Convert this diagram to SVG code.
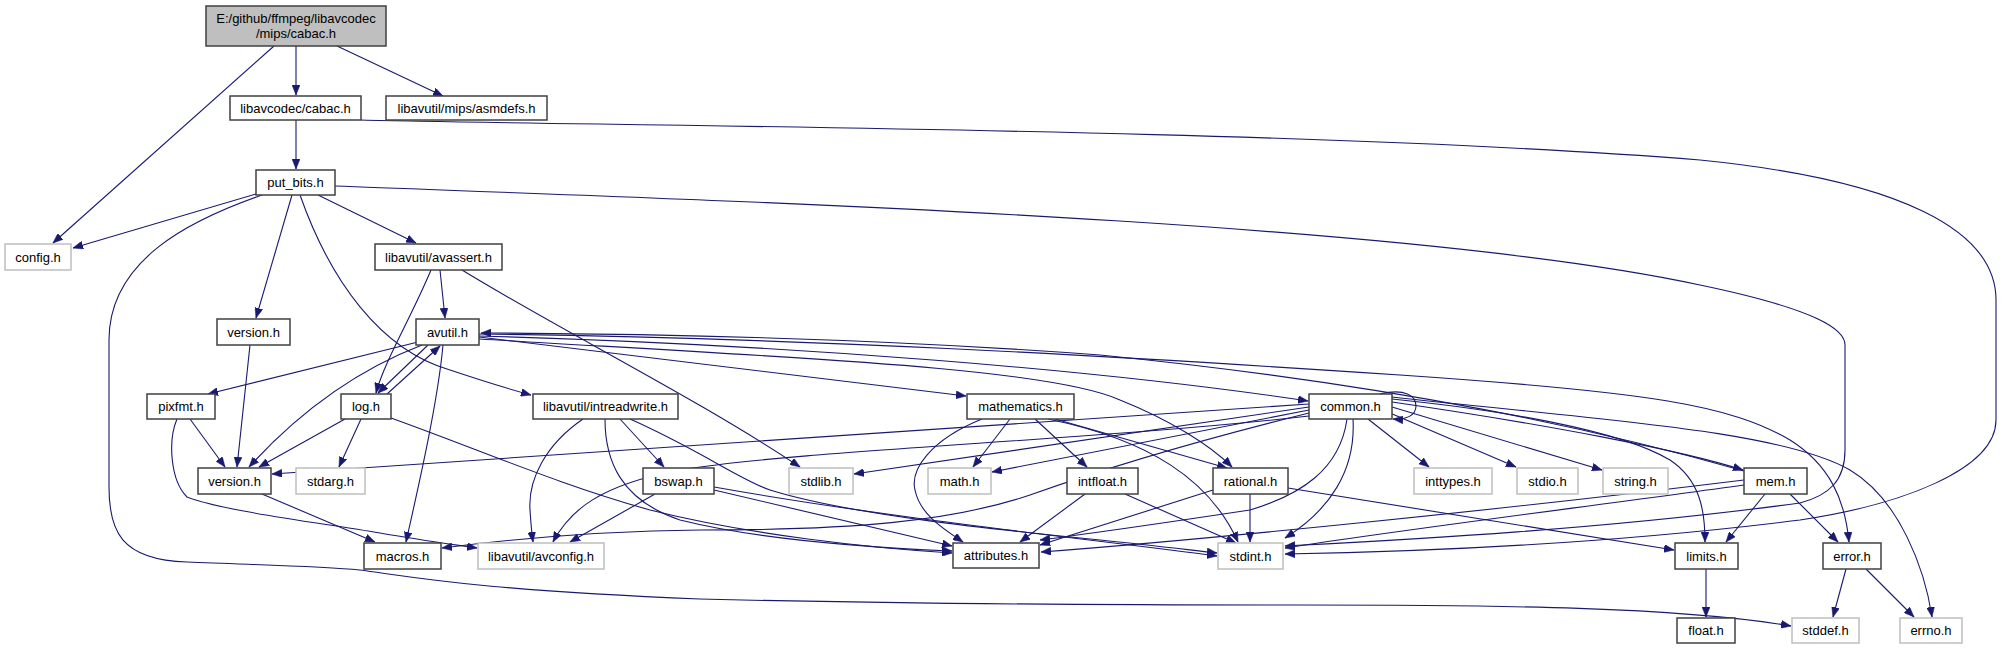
<svg xmlns="http://www.w3.org/2000/svg" width="2003" height="649" viewBox="0 0 2003 649">
<style>
.n{fill:#fff;stroke:#404040;stroke-width:1.5}
.g{fill:#fff;stroke:#bfbfbf;stroke-width:1.5}
.r{fill:#bfbfbf;stroke:#404040;stroke-width:1.5}
text{font-family:"Liberation Sans",Arial,sans-serif;font-size:13px;text-anchor:middle;fill:#000}
.e path{fill:none;stroke:#191970;stroke-width:1.1;marker-end:url(#a)}
</style>
<defs>
<marker id="a" markerUnits="userSpaceOnUse" markerWidth="11" markerHeight="8" refX="10" refY="4" orient="auto">
<path d="M0,0 L10,4 L0,8 z" fill="#191970" stroke="#191970" stroke-width="0.5"/>
</marker>
</defs>
<rect x="0" y="0" width="2003" height="649" fill="#fff"/>
<g class="e" id="edges">
<path d="M274,46 L53,243"/>
<path d="M296,46 L296,95"/>
<path d="M337,46 L443,96"/>
<path d="M296,120 L296,169"/>
<path d="M361,120 C600,126 1300,128 1700,160 C1900,180 1996,230 1996,300 L1996,420 C1996,470 1900,505 1800,520 C1600,545 1400,552 1285,554"/>
<path d="M256,194 L73,248"/>
<path d="M262,195 C190,220 109,260 109,340 L109,487 C109,530 120,560 187,562 C260,565 320,566 360,570 C420,578 480,590 700,599 C900,604 1100,605 1300,605 C1500,605 1680,607 1791,626"/>
<path d="M292,195 L256,318"/>
<path d="M300,195 C330,280 380,350 450,370 C480,380 505,388 531,395"/>
<path d="M318,195 L416,243"/>
<path d="M335,186 C700,200 1400,220 1700,285 C1820,310 1845,330 1845,345 L1845,450 C1845,480 1830,495 1800,503 C1600,530 1400,540 1285,546"/>
<path d="M440,270 L445,318"/>
<path d="M431,270 C410,320 385,360 376,393"/>
<path d="M462,270 C560,330 700,400 800,467"/>
<path d="M250,345 L237,467"/>
<path d="M418,342 L208,394"/>
<path d="M422,345 C370,365 310,400 249,467"/>
<path d="M428,345 L378,393"/>
<path d="M387,394 L440,346"/>
<path d="M443,345 C438,400 420,480 406,542"/>
<path d="M479,337 L966,396"/>
<path d="M479,336 C800,345 1100,370 1308,401"/>
<path d="M479,339 C800,358 1050,368 1120,400 C1170,420 1210,445 1232,467"/>
<path d="M479,334 C800,338 1100,355 1400,375 C1650,392 1730,405 1790,440 C1830,465 1845,500 1849,542"/>
<path d="M1744,471 C1600,430 1400,385 1100,355 C900,340 700,334 481,333"/>
<path d="M345,419 L259,467"/>
<path d="M361,419 L339,467"/>
<path d="M391,418 C480,450 560,485 650,510 C750,535 870,548 952,553"/>
<path d="M190,419 L225,467"/>
<path d="M177,419 C168,440 170,480 187,497 C220,510 300,520 380,533 C420,540 450,544 477,548"/>
<path d="M583,419 C545,445 528,480 530,510 C531,525 532,535 533,542"/>
<path d="M605,419 C605,460 620,500 680,520 C760,540 880,548 952,551"/>
<path d="M620,419 L664,467"/>
<path d="M630,419 C700,450 740,480 770,490 C850,515 1000,530 1100,540 C1150,545 1190,550 1217,553"/>
<path d="M655,494 L570,542"/>
<path d="M714,490 L952,546"/>
<path d="M714,487 C900,520 1100,540 1217,556"/>
<path d="M262,494 L375,542"/>
<path d="M982,419 C930,440 910,470 915,490 C920,515 945,530 963,542"/>
<path d="M1010,419 L973,467"/>
<path d="M1035,419 L1087,467"/>
<path d="M1055,419 L1227,468"/>
<path d="M1048,419 C1150,440 1210,480 1238,542"/>
<path d="M1085,494 L1020,542"/>
<path d="M1125,494 L1236,543"/>
<path d="M1250,494 L1250,542"/>
<path d="M1213,490 L1040,545"/>
<path d="M1288,488 L1674,550"/>
<path d="M1380,394 C1405,388 1416,396 1416,406 C1416,416 1405,420 1393,419"/>
<path d="M1309,404 L272,474"/>
<path d="M1309,407 L854,474"/>
<path d="M1309,410 L992,472"/>
<path d="M1309,413 C1200,440 1100,470 1030,495 C950,522 850,530 700,530 C600,531 520,538 442,548"/>
<path d="M1309,416 C1100,440 800,450 680,470 C600,485 570,510 553,542"/>
<path d="M1347,419 C1340,470 1300,495 1250,510 C1150,525 1080,535 1040,540"/>
<path d="M1353,419 C1356,470 1330,510 1285,538"/>
<path d="M1368,419 L1429,467"/>
<path d="M1390,413 L1516,467"/>
<path d="M1392,407 L1602,470"/>
<path d="M1392,402 C1550,425 1680,450 1743,470"/>
<path d="M1392,399 C1500,410 1620,430 1670,460 C1700,480 1705,510 1705,542"/>
<path d="M1392,397 C1600,420 1780,430 1850,470 C1900,500 1925,570 1932,617"/>
<path d="M1744,485 C1600,505 1400,530 1285,548"/>
<path d="M1744,480 C1500,510 1200,540 1041,552"/>
<path d="M1765,494 L1726,542"/>
<path d="M1790,494 L1838,542"/>
<path d="M1846,569 L1833,617"/>
<path d="M1866,569 L1914,617"/>
<path d="M1706,569 L1706,617"/>
</g>
<g id="root"><rect class="r" x="206" y="6" width="180" height="40"/><text x="296" y="23">E:/github/ffmpeg/libavcodec</text><text x="296" y="38">/mips/cabac.h</text></g>
<g id="cabac"><rect class="n" x="230" y="96" width="131" height="24"/><text x="295.5" y="112.5">libavcodec/cabac.h</text></g>
<g id="asmdefs"><rect class="n" x="386" y="96" width="161" height="24"/><text x="466.5" y="112.5">libavutil/mips/asmdefs.h</text></g>
<g id="put_bits"><rect class="n" x="256" y="170" width="79" height="25"/><text x="295.5" y="187">put_bits.h</text></g>
<g id="config"><rect class="g" x="5" y="244" width="66" height="26"/><text x="38" y="261.5">config.h</text></g>
<g id="avassert"><rect class="n" x="375" y="244" width="127" height="26"/><text x="438.5" y="261.5">libavutil/avassert.h</text></g>
<g id="versionA"><rect class="n" x="217" y="319" width="73" height="26"/><text x="253.5" y="336.5">version.h</text></g>
<g id="avutil"><rect class="n" x="416" y="319" width="63" height="26"/><text x="447.5" y="336.5">avutil.h</text></g>
<g id="pixfmt"><rect class="n" x="147" y="394" width="68" height="25"/><text x="181" y="411">pixfmt.h</text></g>
<g id="log"><rect class="n" x="341" y="394" width="50" height="25"/><text x="366" y="411">log.h</text></g>
<g id="intreadwrite"><rect class="n" x="533" y="394" width="145" height="25"/><text x="605.5" y="411">libavutil/intreadwrite.h</text></g>
<g id="mathematics"><rect class="n" x="967" y="394" width="107" height="25"/><text x="1020.5" y="411">mathematics.h</text></g>
<g id="common"><rect class="n" x="1309" y="394" width="83" height="25"/><text x="1350.5" y="411">common.h</text></g>
<g id="versionB"><rect class="n" x="198" y="468" width="73" height="26"/><text x="234.5" y="485.5">version.h</text></g>
<g id="stdarg"><rect class="g" x="296" y="468" width="69" height="26"/><text x="330.5" y="485.5">stdarg.h</text></g>
<g id="bswap"><rect class="n" x="643" y="468" width="71" height="26"/><text x="678.5" y="485.5">bswap.h</text></g>
<g id="stdlib"><rect class="g" x="789" y="468" width="64" height="26"/><text x="821" y="485.5">stdlib.h</text></g>
<g id="math"><rect class="g" x="928" y="468" width="63" height="26"/><text x="959.5" y="485.5">math.h</text></g>
<g id="intfloat"><rect class="n" x="1067" y="468" width="71" height="26"/><text x="1102.5" y="485.5">intfloat.h</text></g>
<g id="rational"><rect class="n" x="1213" y="468" width="75" height="26"/><text x="1250.5" y="485.5">rational.h</text></g>
<g id="inttypes"><rect class="g" x="1414" y="468" width="78" height="26"/><text x="1453" y="485.5">inttypes.h</text></g>
<g id="stdio"><rect class="g" x="1517" y="468" width="61" height="26"/><text x="1547.5" y="485.5">stdio.h</text></g>
<g id="string"><rect class="g" x="1603" y="468" width="65" height="26"/><text x="1635.5" y="485.5">string.h</text></g>
<g id="mem"><rect class="n" x="1744" y="468" width="63" height="26"/><text x="1775.5" y="485.5">mem.h</text></g>
<g id="macros"><rect class="n" x="364" y="543" width="77" height="26"/><text x="402.5" y="560.5">macros.h</text></g>
<g id="avconfig"><rect class="g" x="478" y="543" width="126" height="26"/><text x="541" y="560.5">libavutil/avconfig.h</text></g>
<g id="attributes"><rect class="n" x="953" y="543" width="86" height="25"/><text x="996" y="560">attributes.h</text></g>
<g id="stdint"><rect class="g" x="1218" y="543" width="65" height="26"/><text x="1250.5" y="560.5">stdint.h</text></g>
<g id="limits"><rect class="n" x="1675" y="543" width="63" height="26"/><text x="1706.5" y="560.5">limits.h</text></g>
<g id="error"><rect class="n" x="1823" y="543" width="58" height="26"/><text x="1852" y="560.5">error.h</text></g>
<g id="float"><rect class="n" x="1677" y="618" width="58" height="25"/><text x="1706" y="635">float.h</text></g>
<g id="stddef"><rect class="g" x="1792" y="618" width="67" height="25"/><text x="1825.5" y="635">stddef.h</text></g>
<g id="errno"><rect class="g" x="1900" y="618" width="62" height="25"/><text x="1931" y="635">errno.h</text></g>
</svg>
